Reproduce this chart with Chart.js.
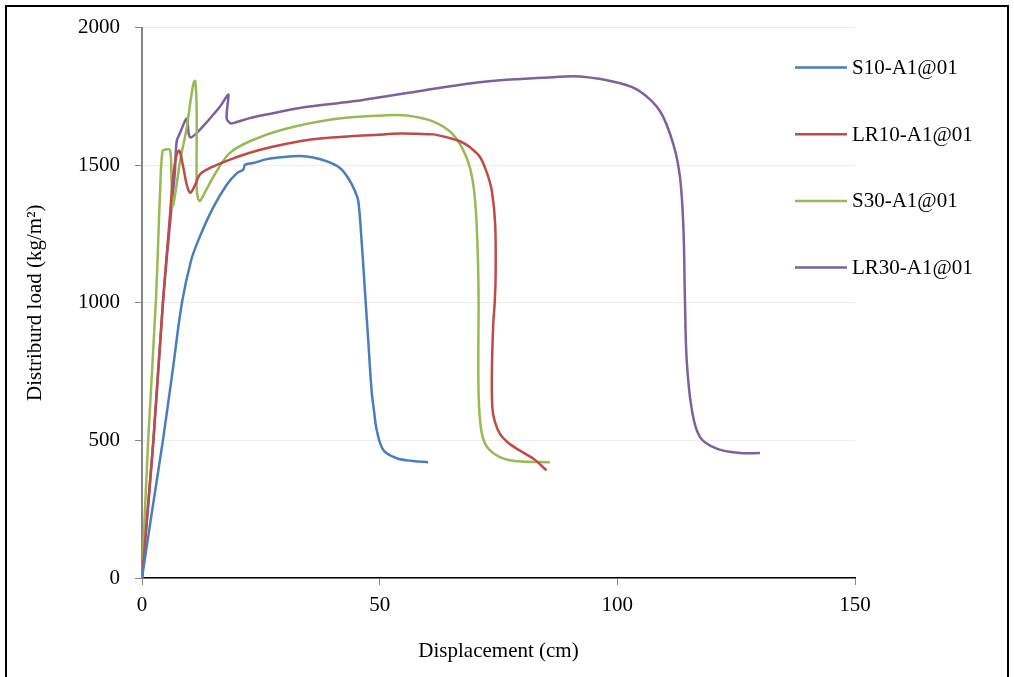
<!DOCTYPE html>
<html lang="en">
<head>
    <meta charset="UTF-8">
    <title>Distributed load vs displacement</title>
    <script src="https://cdn.jsdelivr.net/npm/chart.js"></script>
    <style>
        body {
            margin: 0;
            background: #ffffff;
        }
        .wrap {
            position: relative;
            width: 1014px;
            height: 677px;
            overflow: hidden;
        }
        .frame {
            position: absolute;
            left: 5px;
            top: 5px;
            width: 1004px;
            height: 700px;
            border: 2px solid #000;
            box-sizing: border-box;
            pointer-events: none;
        }
        canvas {
            position: absolute;
            left: 0;
            top: 0;
        }
    </style>
</head>
<body>
    <div class="wrap">
        <canvas id="loadChart" width="1014" height="677"></canvas>
        <div class="frame"></div>
    </div>

    <script>
        // series (x = displacement cm, y = load kg/m2)
        const seriesNames = ["S10-A1@01", "LR10-A1@01", "S30-A1@01", "LR30-A1@01"];
        const seriesColors = ["#4a7ebb", "#be4b48", "#98b954", "#7d60a0"];

        const s10X = [0, 2.0, 4.4, 6.5, 8.4, 10.3, 11.8, 14.9, 17.9, 20.0, 21.3, 21.7, 23.4, 26.3, 30.0, 33.2, 36.0, 38.9, 41.7, 43.5, 44.8, 45.5, 46.2, 46.9, 47.6, 48.3, 48.8, 49.4, 50.8, 53.6, 57.0, 60.2];
        const s10Y = [0, 230, 500, 760, 1000, 1152, 1225, 1344, 1431, 1471, 1484, 1502, 1508, 1522, 1530, 1533, 1528, 1514, 1489, 1450, 1406, 1370, 1225, 1043, 862, 681, 609, 536, 464, 435, 425, 421];

        const lr10X = [0, 2.4, 4.4, 5.8, 6.6, 7.3, 7.85, 8.6, 9.4, 10.1, 10.8, 11.5, 12.2, 14.3, 18.5, 22.7, 27.0, 33.2, 38.0, 43.8, 49.0, 54.3, 58.0, 61.2, 64.0, 66.9, 69.0, 71.1, 72.6, 73.6, 74.3, 74.4, 74.2, 73.9, 73.6, 73.7, 74.2, 75.3, 76.8, 78.8, 82.3, 85.1];
        const lr10Y = [0, 500, 1000, 1300, 1466, 1539, 1553, 1500, 1430, 1400, 1415, 1442, 1467, 1490, 1520, 1545, 1565, 1587, 1598, 1605, 1610, 1615, 1614, 1612, 1602, 1587, 1565, 1530, 1470, 1406, 1286, 1105, 1000, 924, 743, 621, 570, 524, 495, 470, 434, 391];

        const s30X = [0, 1.3, 2.9, 3.8, 4.3, 5.0, 5.9, 6.2, 6.45, 7.2, 8.0, 9.4, 10.4, 10.9, 11.2, 11.5, 11.5, 11.8, 12.2, 13.5, 15.7, 18.5, 22.7, 29.7, 40.2, 50.7, 55.7, 61.2, 65.4, 68.3, 69.7, 70.4, 70.8, 70.8, 71.5, 73.2, 77.4, 85.8];
        const s30Y = [0, 500, 1000, 1400, 1550, 1557, 1555, 1450, 1351, 1420, 1514, 1635, 1756, 1800, 1806, 1700, 1418, 1378, 1370, 1410, 1478, 1545, 1587, 1630, 1667, 1681, 1681, 1659, 1612, 1527, 1430, 1285, 1043, 681, 524, 464, 428, 421];

        const lr30X = [0, 2.4, 4.4, 6.2, 6.9, 7.3, 8.0, 9.0, 9.5, 9.8, 10.2, 11.5, 13.3, 15.0, 16.5, 17.8, 18.2, 17.8, 18.5, 19.2, 22.7, 26.2, 33.2, 44.4, 58.5, 72.5, 86.5, 92.2, 100.6, 104.8, 109.0, 111.8, 113.2, 113.9, 114.2, 114.6, 115.7, 117.4, 120.9, 125.8, 130.0];
        const lr30Y = [0, 500, 1000, 1345, 1470, 1587, 1617, 1659, 1669, 1617, 1601, 1617, 1650, 1684, 1715, 1750, 1756, 1671, 1653, 1653, 1671, 1684, 1708, 1732, 1770, 1804, 1820, 1822, 1798, 1768, 1696, 1575, 1454, 1273, 1031, 790, 609, 512, 470, 454, 454];

        const xTicks = [0, 50, 100, 150];
        const yTicks = [0, 500, 1000, 1500, 2000];

        const allX = [s10X, lr10X, s30X, lr30X];
        const allY = [s10Y, lr10Y, s30Y, lr30Y];

        const serif = "'Liberation Serif', 'Times New Roman', serif";

        const datasets = seriesNames.map((name, i) => ({
            label: name,
            data: allX[i].map((x, j) => ({ x: x, y: allY[i][j] })),
            borderColor: seriesColors[i],
            backgroundColor: seriesColors[i],
            borderWidth: 2.5,
            pointRadius: 0,
            tension: 0.35,
            fill: false
        }));

        // legend drawn beside the plot like the original (it overlaps the plot area edge)
        const sideLegend = {
            id: "sideLegend",
            afterDraw(chart) {
                const ctx = chart.ctx;
                ctx.save();
                ctx.font = "21px " + serif;
                ctx.textBaseline = "middle";
                ctx.fillStyle = "#000";
                chart.data.datasets.forEach((ds, i) => {
                    const y = 67.5 + i * 66.7;
                    ctx.strokeStyle = ds.borderColor;
                    ctx.lineWidth = 2.5;
                    ctx.beginPath();
                    ctx.moveTo(795, y);
                    ctx.lineTo(847, y);
                    ctx.stroke();
                    ctx.fillText(ds.label, 852, y + 1);
                });
                ctx.restore();
            }
        };

        new Chart(document.getElementById("loadChart"), {
            type: "line",
            data: { datasets: datasets },
            options: {
                responsive: false,
                animation: false,
                devicePixelRatio: 1,
                parsing: true,
                layout: {
                    padding: { top: 26, right: 159, bottom: 0, left: 0 }
                },
                plugins: {
                    legend: { display: false },
                    tooltip: { enabled: false }
                },
                scales: {
                    x: {
                        type: "linear",
                        min: 0,
                        max: 150,
                        afterBuildTicks: (axis) => { axis.ticks = xTicks.map(v => ({ value: v })); },
                        afterFit: (axis) => { axis.height = 99; },
                        ticks: {
                            color: "#000",
                            padding: 8,
                            font: { family: serif, size: 21 },
                            callback: (v) => String(v)
                        },
                        grid: {
                            drawOnChartArea: false,
                            drawTicks: true,
                            tickLength: 7,
                            tickColor: "#868686"
                        },
                        border: { color: "#000", width: 1.5 },
                        title: {
                            display: true,
                            text: "Displacement (cm)",
                            color: "#000",
                            font: { family: serif, size: 21 },
                            padding: { top: 0, bottom: 13 }
                        }
                    },
                    y: {
                        type: "linear",
                        min: 0,
                        max: 2000,
                        afterBuildTicks: (axis) => { axis.ticks = yTicks.map(v => ({ value: v })); },
                        afterFit: (axis) => { axis.width = 142; },
                        ticks: {
                            color: "#000",
                            padding: 15,
                            font: { family: serif, size: 21 },
                            callback: (v) => String(v)
                        },
                        grid: {
                            color: "#ececec",
                            lineWidth: 1,
                            tickLength: 7,
                            tickColor: "#868686"
                        },
                        border: { color: "#868686", width: 2 },
                        title: {
                            display: true,
                            text: "Distriburd load (kg/m²)",
                            color: "#000",
                            font: { family: serif, size: 21 },
                            padding: { top: 23, bottom: 0 }
                        }
                    }
                }
            },
            plugins: [sideLegend]
        });
    </script>
</body>
</html>
